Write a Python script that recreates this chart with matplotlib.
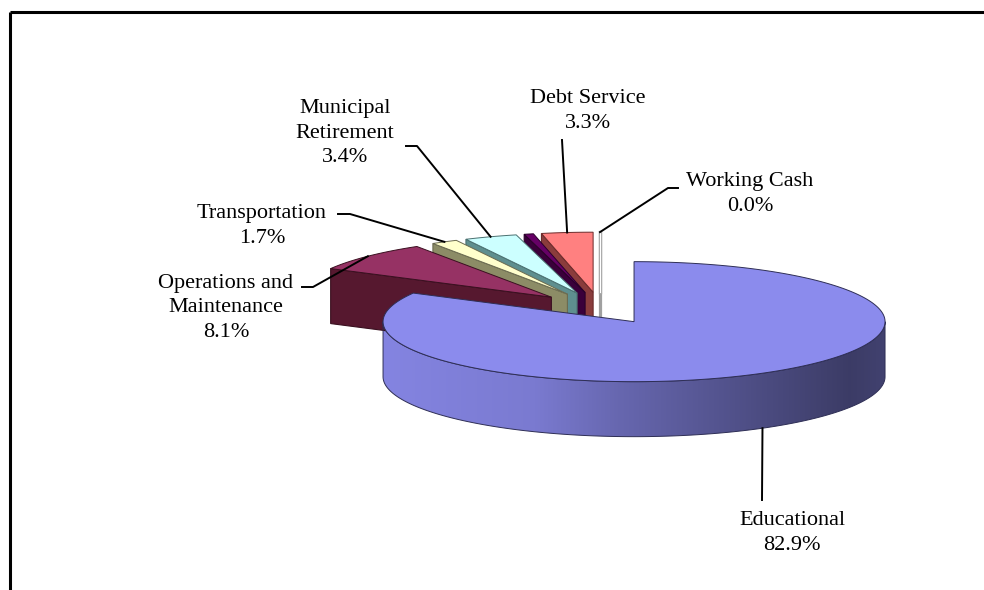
import numpy as np
import matplotlib.pyplot as plt
from matplotlib.patches import Polygon
import matplotlib.colors as mcolors

# data
categories = ["Educational", "Operations and\nMaintenance", "Transportation",
              "Municipal\nRetirement", "", "Debt Service", "Working Cash"]
shares = [82.9, 8.1, 1.7, 3.4, 0.6, 3.3, 0.0]

top_colors = ['#8b8bed', '#963264', '#ffffcc', '#ccffff', '#660066', '#ff8080', '#ffffff']
face_colors = ['#5a5a9a', '#56182f', '#8c8c66', '#5e8f8f', '#3a003a', '#8a3c3c', '#ffffff']
edge_colors = ['#2e2e55', '#3a1020', '#6a6a50', '#4a7070', '#2a002a', '#6a2a2a', '#a0a0a0']

# layout (pixel coords, y down)
CX, CY = 600, 308
RX, RY = 251, 60
DEPTH = 55
EXPLODE = 0.265

label_pos = [(792, 533), (226, 308), (262, 226), (345, 133), (0, 0), (588, 111), (750, 194)]
elbows = [[(762, 500)], [(302, 287), (313, 287)], [(338, 214), (350, 214)],
          [(406, 146), (417, 146)], [], [(562, 140)], [(678, 188), (668, 188)]]

fig = plt.figure(figsize=(9.84, 5.90), dpi=100)
ax = fig.add_axes([0, 0, 1, 1])
ax.axis('off')

total = sum(shares)
starts = []
a = 90.0
for s in shares:
    starts.append(a)
    a -= s / total * 360.0


def pt(cx, cy, t, z=0.0):
    r = np.radians(t)
    return (cx + RX * np.cos(r), cy - RY * np.sin(r) + z)


slices = []
for i, s in enumerate(shares):
    a1 = starts[i]
    a0 = a1 - s / total * 360.0
    if a0 < 0:
        a0 += 360
        a1 += 360
    mid = (a0 + a1) / 2
    ox, oy = EXPLODE * RX * np.cos(np.radians(mid)), -EXPLODE * RY * np.sin(np.radians(mid))
    slices.append((i, a0, a1, mid, CX + ox, CY + oy))

# back to front
order = sorted(slices, key=lambda v: -np.sin(np.radians(v[3])))

anchors = {}
for i, a0, a1, mid, cx, cy in order:
    top = top_colors[i]
    face = face_colors[i]
    ec = edge_colors[i]
    # radial faces
    for ang, visible in ((a0, np.cos(np.radians(a0)) > 1e-9), (a1, np.cos(np.radians(a1)) < -1e-9)):
        if visible or shares[i] == 0:
            quad = [(cx, cy), pt(cx, cy, ang), pt(cx, cy, ang, DEPTH), (cx, cy + DEPTH)]
            ax.add_patch(Polygon(quad, closed=True, fc=face, ec=ec, lw=0.8 if shares[i] > 0 else 2.2))
    # outer wall, shaded left (light) to right (dark)
    for k in (-1, 0, 1):
        lo = max(a0, 180 + 360 * k)
        hi = min(a1, 360 + 360 * k)
        if hi <= lo:
            continue
        ts = np.linspace(lo, hi, 400)
        wall = [pt(cx, cy, t) for t in ts] + [pt(cx, cy, t, DEPTH) for t in ts[::-1]]
        wall_patch = Polygon(wall, closed=True, fc='none', ec=ec, lw=0.7)
        ax.add_patch(wall_patch)
        xl, xr = cx - RX, cx + RX
        u = np.linspace(0, 1, 512)
        f = np.interp(u, [0, 0.3, 0.47, 0.75, 0.93, 1.0], [0.95, 0.88, 0.74, 0.55, 0.43, 0.47])
        rgb = np.array(mcolors.to_rgb(top))
        grad = np.clip(f[None, :, None] * rgb[None, None, :], 0, 1)
        ys = [p[1] for p in wall]
        im = ax.imshow(grad, extent=(xl, xr, max(ys) + 1, min(ys) - 1), origin='upper',
                       aspect='auto', interpolation='bilinear', zorder=wall_patch.get_zorder() - 0.01)
        im.set_clip_path(wall_patch)
    # top surface
    ts = np.linspace(a0, a1, max(int((a1 - a0) * 2), 2))
    poly = [(cx, cy)] + [pt(cx, cy, t) for t in ts]
    ax.add_patch(Polygon(poly, closed=True, fc=top, ec=ec if shares[i] > 0 else 'none', lw=0.7))
    if shares[i] == 0:
        ax.plot([cx, cx], [cy, pt(cx, cy, a0)[1]], color='#a8a8a8', lw=2.4)
        ax.plot([cx, cx], [cy, pt(cx, cy, a0)[1]], color='white', lw=0.8)
    if np.sin(np.radians(mid)) < 0:
        anchors[i] = pt(cx, cy, mid, DEPTH)
    else:
        anchors[i] = pt(cx, cy, mid)

# labels and leader lines
for i, name in enumerate(categories):
    if not name:
        continue
    x, y = label_pos[i]
    ax.text(x, y, "%s\n%.1f%%" % (name, shares[i]), ha='center', va='center',
            multialignment='center', fontsize=16, family='Liberation Serif',
            linespacing=1.4, color='black', zorder=5)
    path = elbows[i] + [anchors[i]]
    if i == 0:
        path = [anchors[i]] + elbows[i]
    ax.plot([p[0] for p in path], [p[1] for p in path], color='black', lw=1.4, zorder=5)

# chart frame (top and left edges visible)
ax.plot([10, 984], [12, 12], color='black', lw=2.2, solid_capstyle='butt')
ax.plot([10, 10], [12, 590], color='black', lw=2.2, solid_capstyle='butt')

ax.set_xlim(0, 984)
ax.set_ylim(590, 0)

fig.savefig('out.png', dpi=100)
